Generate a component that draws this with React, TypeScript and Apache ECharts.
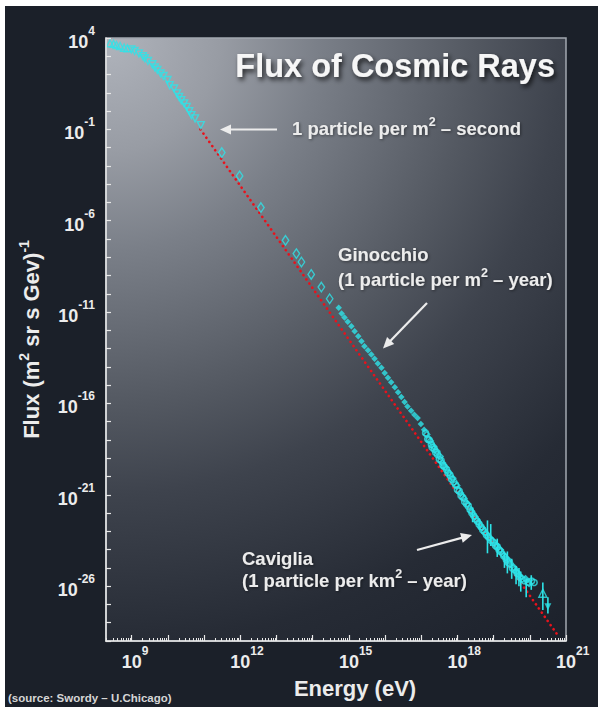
import React, { useEffect, useRef } from "react";
import * as echarts from "echarts";

const FONT = '"Liberation Sans", Arial, Helvetica, sans-serif';
const CYAN = "#2ee4e8";
const RED = "#e8121c";
const TEXT = "#ececec";
const BG = "#1b2029";

// Values, as log10(E / eV) and log10(flux / (m^2 sr s GeV)^-1)
const triUpLogE = [8.4, 8.5, 8.58, 8.68, 8.79, 8.88];
const triUpLogFlux = [3.71, 3.68, 3.62, 3.56, 3.47, 3.44];

const triDownLogE = [8.99, 9.08, 9.2, 9.31, 9.36, 9.45, 9.57, 9.64, 9.71, 9.8, 9.88, 9.99, 10.05, 10.17, 10.25, 10.31, 10.37, 10.45, 10.52, 10.59, 10.65, 10.75, 10.91];
const triDownLogFlux = [3.38, 3.29, 3.16, 3.01, 2.89, 2.74, 2.56, 2.39, 2.25, 2.06, 1.92, 1.7, 1.42, 1.24, 0.97, 0.78, 0.6, 0.42, 0.23, 0.0, -0.22, -0.4, -0.77];

const diamondLogE = [11.49, 11.98, 12.57, 13.25, 13.55, 13.69, 13.96, 14.24, 14.47];
const diamondLogFlux = [-2.27, -3.55, -5.28, -7.07, -7.8, -8.26, -8.94, -9.63, -10.27];

const filledLogE = [14.72, 14.8, 14.88, 14.97, 15.07, 15.16, 15.26, 15.35, 15.43, 15.53, 15.62, 15.71, 15.8, 15.9, 15.99, 16.08, 16.17, 16.27, 16.36, 16.45, 16.54, 16.62, 16.72, 16.81, 16.9, 16.99, 17.08];
const filledLogFlux = [-10.76, -11.08, -11.3, -11.53, -11.77, -12.05, -12.32, -12.6, -12.87, -13.09, -13.32, -13.56, -13.82, -14.05, -14.33, -14.6, -14.84, -15.12, -15.39, -15.64, -15.92, -16.16, -16.4, -16.62, -16.8, -17.12, -17.44];

const highLogE = [17.12, 17.18, 17.22, 17.28, 17.3, 17.36, 17.4, 17.45, 17.5, 17.55, 17.6, 17.63, 17.7, 17.74, 17.8, 17.84, 17.9, 17.95, 18.0, 18.05, 18.1, 18.15, 18.2, 18.25, 18.3, 18.35, 18.4, 18.45, 18.5, 18.55, 18.6, 18.65, 18.7, 18.75, 18.8, 18.85, 18.92, 19.0, 19.05, 19.1, 19.15, 19.2, 19.28, 19.35, 19.4, 19.45, 19.52, 19.58, 19.65, 19.72, 19.78, 19.85, 19.95, 20.05, 20.12];
const highLogFlux = [-17.62, -17.95, -18.0, -18.25, -18.4, -18.5, -18.68, -18.8, -19.05, -19.12, -19.38, -19.45, -19.62, -19.8, -19.95, -20.15, -20.3, -20.45, -20.72, -20.8, -21.05, -21.15, -21.38, -21.5, -21.62, -21.82, -22.0, -22.15, -22.32, -22.45, -22.62, -22.75, -22.92, -23.02, -23.2, -23.3, -23.48, -23.62, -23.78, -23.85, -24.02, -24.12, -24.35, -24.55, -24.7, -24.78, -25.02, -25.1, -25.3, -25.5, -25.6, -25.7, -25.78, -25.72, -25.8];

// second overlapping data set in the same energy range (other experiments)
const high2LogE = [17.15, 17.25, 17.34, 17.43, 17.52, 17.58, 17.67, 17.77, 17.87, 17.98, 18.08, 18.18, 18.28, 18.38, 18.48, 18.58, 18.68, 18.78, 18.88, 18.97, 19.08, 19.18, 19.25, 19.32, 19.42, 19.55, 19.62, 19.7, 19.88, 19.98];
const high2LogFlux = [-17.7, -18.05, -18.35, -18.62, -18.9, -19.25, -19.5, -19.8, -20.1, -20.5, -20.9, -21.2, -21.5, -21.9, -22.2, -22.5, -22.8, -23.1, -23.35, -23.5, -23.75, -24.0, -24.25, -24.4, -24.6, -24.95, -25.2, -25.4, -25.6, -25.85];

// error bars: log10 E, low, high
const errLogE = [18.42, 18.6, 18.83, 18.92, 19.1, 19.3, 19.38, 19.5, 19.62, 19.7, 19.75, 19.9, 20.04, 20.36, 20.5];
const errLow = [-22.5, -22.9, -24.2, -23.8, -24.4, -25.0, -25.3, -25.6, -25.9, -26.0, -26.3, -26.6, -26.2, -27.3, -27.5];
const errHigh = [-21.7, -22.3, -22.4, -22.6, -23.4, -24.1, -24.1, -24.5, -24.9, -25.0, -25.2, -25.6, -25.4, -25.8, -26.6];

// highest-energy limit markers
const limitUpLogE = [20.36];
const limitUpLogFlux = [-26.39];
const limitDownLogE = [20.5];
const limitDownLogFlux = [-27.12];

// power-law guide (red dotted line)
const fitLogE = [10.9, 20.75];
const fitLogFlux = [-1.0, -28.62];

const xLabelExps = [9, 12, 15, 18, 21];
const yLabelExps = [4, -1, -6, -11, -16, -21, -26];
const X_MIN = 8.29;
const X_MAX = 21;
const Y_MIN = -29;
const Y_MAX = 4;

const pairs = (xs: number[], ys: number[]) => xs.map((x, i) => [x, ys[i]]);

const GRID = { left: 106, top: 38, right: 32, bottom: 66 };
const W = 598;
const H = 707;

export default function App() {
  const ref = useRef<HTMLDivElement>(null);
  useEffect(() => {
    if (!ref.current) return;
    const chart = echarts.init(ref.current, undefined, { renderer: "svg" });

    const xMajor: number[] = [];
    for (let d = 9; d <= 21; d++) xMajor.push(d);
    const xMinor: number[] = [];
    for (let d = 8; d <= 20; d++)
      for (let k = 2; k <= 9; k++) {
        const v = d + Math.log10(k);
        if (v >= X_MIN && v <= X_MAX) xMinor.push(v);
      }
    const yTicks: number[] = [];
    for (let d = Y_MIN; d <= Y_MAX; d++) yTicks.push(d);

    const gx = GRID.left;
    const gy = GRID.top;

    const supRich = (size: number) => ({
      fontSize: size,
      fontWeight: "bold",
      fontFamily: FONT,
      color: TEXT,
      fill: TEXT,
      verticalAlign: "top",
    });

    const annoStyle = (text: string, x: number, y: number) => ({
      text,
      x,
      y,
      fill: TEXT,
      fontSize: 18.5,
      fontWeight: "bold",
      fontFamily: FONT,
      align: "left",
      verticalAlign: "middle",
      lineHeight: 26,
      textShadowColor: "rgba(0,0,0,0.45)",
      textShadowBlur: 3,
      textShadowOffsetX: 1,
      textShadowOffsetY: 1,
      rich: { s: { ...supRich(12.5) } },
    });

    const arrowHead = (tx: number, ty: number, fx: number, fy: number) => {
      const dx = tx - fx;
      const dy = ty - fy;
      const len = Math.sqrt(dx * dx + dy * dy);
      const ux = dx / len;
      const uy = dy / len;
      const bx = tx - ux * 11;
      const by = ty - uy * 11;
      const px = -uy * 5;
      const py = ux * 5;
      return {
        type: "polygon",
        z: 50,
        shape: { points: [[tx, ty], [bx + px, by + py], [bx - px, by - py]] },
        style: { fill: TEXT },
      };
    };
    const arrow = (fx: number, fy: number, tx: number, ty: number) => {
      const dx = tx - fx;
      const dy = ty - fy;
      const len = Math.sqrt(dx * dx + dy * dy);
      return [
        {
          type: "line",
          z: 50,
          shape: { x1: fx, y1: fy, x2: tx - (dx / len) * 8, y2: ty - (dy / len) * 8 },
          style: { stroke: TEXT, lineWidth: 2.2 },
        },
        arrowHead(tx, ty, fx, fy),
      ];
    };

    const tickLabelRich = {
      b: { fontSize: 18, fontWeight: "bold", fontFamily: FONT, color: TEXT, lineHeight: 26, verticalAlign: "bottom" },
      s: { ...supRich(12) },
      sp1: { width: 7, fontSize: 12, fontFamily: FONT },
      sp2: { width: 13.5, fontSize: 12, fontFamily: FONT },
    };

    const cyanHollow = { color: "rgba(0,0,0,0)", borderColor: CYAN, borderWidth: 1.4 };

    chart.setOption({
      animation: false,
      backgroundColor: "#ffffff",
      title: {
        text: "Flux of Cosmic Rays",
        right: 43,
        top: 49,
        padding: 0,
        textStyle: {
          color: "#f6f6f6",
          fontSize: 32.5,
          fontWeight: "bold",
          fontFamily: FONT,
          textShadowColor: "rgba(0,0,0,0.75)",
          textShadowBlur: 5,
          textShadowOffsetX: 2,
          textShadowOffsetY: 3,
        },
      },
      grid: {
        left: GRID.left,
        top: GRID.top,
        right: GRID.right,
        bottom: GRID.bottom,
        show: true,
        z: -1,
        borderColor: "#a3a8b0",
        borderWidth: 1.5,
        backgroundColor: new echarts.graphic.RadialGradient(
          gx,
          gy,
          760,
          [
            { offset: 0, color: "rgb(176,180,188)" },
            { offset: 0.15, color: "rgb(152,156,164)" },
            { offset: 0.28, color: "rgb(122,127,136)" },
            { offset: 0.48, color: "rgb(84,89,98)" },
            { offset: 0.6, color: "rgb(62,67,77)" },
            { offset: 0.8, color: "rgb(38,43,53)" },
            { offset: 1, color: "rgb(28,33,43)" },
          ],
          true
        ),
      },
      xAxis: [
        {
          type: "value",
          min: X_MIN,
          max: X_MAX,
          position: "bottom",
          z: 5,
          splitLine: { show: false },
          axisLine: { show: true, onZero: false, lineStyle: { color: "#e8e8e8", width: 1.5 } },
          axisTick: {
            show: true,
            inside: true,
            length: 6,
            customValues: xMajor,
            lineStyle: { color: "#e8e8e8", width: 1.2 },
          },
          axisLabel: {
            show: true,
            customValues: xLabelExps,
            margin: 4,
            formatter: (v: number) => `{${String(v).length > 1 ? "sp2" : "sp1"}| }{b|10}{s|${v}}`,
            rich: tickLabelRich,
          },
          name: "Energy (eV)",
          nameLocation: "middle",
          nameGap: 36,
          nameTextStyle: {
            color: TEXT,
            fontSize: 22,
            fontWeight: "bold",
            fontFamily: FONT,
            padding: [0, 0, 0, 38],
          },
        },
        {
          type: "value",
          min: X_MIN,
          max: X_MAX,
          position: "bottom",
          offset: 0,
          z: 5,
          splitLine: { show: false },
          axisLine: { show: false, onZero: false },
          axisLabel: { show: false },
          axisTick: {
            show: true,
            inside: true,
            length: 3,
            customValues: xMinor,
            lineStyle: { color: "#e8e8e8", width: 1 },
          },
        },
      ],
      yAxis: {
        type: "value",
        min: Y_MIN,
        max: Y_MAX,
        z: 5,
        splitLine: { show: false },
        axisLine: { show: true, onZero: false, lineStyle: { color: "#e8e8e8", width: 1.5 } },
        axisTick: {
          show: true,
          inside: true,
          length: 5,
          customValues: yTicks,
          lineStyle: { color: "#e8e8e8", width: 1.2 },
        },
        axisLabel: {
          show: true,
          customValues: yLabelExps,
          margin: 11,
          formatter: (v: number) => `{b|10}{s|${v}}`,
          rich: tickLabelRich,
        },
        name: "Flux (m{s|2} sr s Gev){s|-1}",
        nameLocation: "middle",
        nameGap: 58,
        nameTextStyle: {
          color: TEXT,
          fontSize: 22,
          fontWeight: "bold",
          fontFamily: FONT,
          lineHeight: 30,
          rich: { s: { ...supRich(14) } },
        },
      },
      series: [
        {
          name: "power law",
          type: "line",
          data: pairs(fitLogE, fitLogFlux),
          symbol: "none",
          z: 1,
          lineStyle: { color: RED, width: 2.6, type: [0.1, 5], cap: "round" },
        },
        {
          name: "low energy (up)",
          type: "scatter",
          symbol: "triangle",
          symbolSize: 7,
          itemStyle: cyanHollow,
          data: pairs(triUpLogE, triUpLogFlux),
          z: 3,
        },
        {
          name: "low energy (down)",
          type: "scatter",
          symbol: "triangle",
          symbolRotate: 180,
          symbolSize: 7,
          itemStyle: cyanHollow,
          data: pairs(triDownLogE, triDownLogFlux),
          z: 3,
        },
        {
          name: "direct",
          type: "scatter",
          symbol: "diamond",
          symbolSize: [6.5, 9.5],
          itemStyle: cyanHollow,
          data: pairs(diamondLogE, diamondLogFlux),
          z: 3,
        },
        {
          name: "air shower",
          type: "scatter",
          symbol: "diamond",
          symbolSize: 6.5,
          itemStyle: { color: CYAN },
          data: pairs(filledLogE, filledLogFlux),
          z: 3,
        },
        {
          name: "error bars",
          type: "custom",
          z: 3,
          encode: { x: 0, y: [1, 2] },
          data: errLogE.map((e, i) => [e, errLow[i], errHigh[i]]),
          renderItem: (params: any, api: any) => {
            const x = api.value(0);
            const a = api.coord([x, api.value(1)]);
            const b = api.coord([x, api.value(2)]);
            return {
              type: "line",
              shape: { x1: a[0], y1: a[1], x2: b[0], y2: b[1] },
              style: { stroke: CYAN, lineWidth: 1.6 },
            };
          },
        },
        {
          name: "highest energy",
          type: "scatter",
          symbol: "circle",
          symbolSize: 6,
          itemStyle: { color: "rgba(0,0,0,0)", borderColor: CYAN, borderWidth: 1.6 },
          data: pairs(highLogE, highLogFlux),
          z: 3,
        },
        {
          name: "highest energy 2",
          type: "scatter",
          symbol: "diamond",
          symbolSize: 6,
          itemStyle: { color: "rgba(0,0,0,0)", borderColor: CYAN, borderWidth: 1.6 },
          data: pairs(high2LogE, high2LogFlux),
          z: 3,
        },
        {
          name: "limit up",
          type: "scatter",
          symbol: "triangle",
          symbolSize: 8,
          itemStyle: cyanHollow,
          data: pairs(limitUpLogE, limitUpLogFlux),
          z: 4,
        },
        {
          name: "limit down",
          type: "scatter",
          symbol: "triangle",
          symbolRotate: 180,
          symbolSize: 7,
          itemStyle: { color: CYAN },
          data: pairs(limitDownLogE, limitDownLogFlux),
          z: 4,
        },
      ],
      graphic: [
        {
          type: "rect",
          z: -100,
          silent: true,
          shape: { x: 5, y: 6, width: W - 5, height: H - 6 },
          style: { fill: BG },
        },
        {
          type: "text",
          z: 50,
          style: annoStyle("1 particle per m{s|2} – second", 292, 128.5),
        },
        ...arrow(277, 129.5, 220, 129.5),
        {
          type: "text",
          z: 50,
          style: annoStyle("Ginocchio", 338, 254),
        },
        {
          type: "text",
          z: 50,
          style: annoStyle("(1 particle per m{s|2} – year)", 338, 279.5),
        },
        ...arrow(427, 303, 383, 348.5),
        {
          type: "text",
          z: 50,
          style: annoStyle("Caviglia", 242, 558),
        },
        {
          type: "text",
          z: 50,
          style: annoStyle("(1 particle per km{s|2} – year)", 242, 580),
        },
        ...arrow(417, 550, 472, 535),
        {
          type: "text",
          z: 50,
          style: {
            text: "(source: Swordy – U.Chicago)",
            x: 8,
            y: 698,
            fill: "#d6d6d6",
            fontSize: 11.5,
            fontWeight: "bold",
            fontFamily: FONT,
            align: "left",
            verticalAlign: "middle",
          },
        },
      ],
    });
    return () => chart.dispose();
  }, []);
  return (
    <div
      ref={ref}
      style={{ position: "absolute", left: 0, top: 0, width: W, height: H }}
    />
  );
}
